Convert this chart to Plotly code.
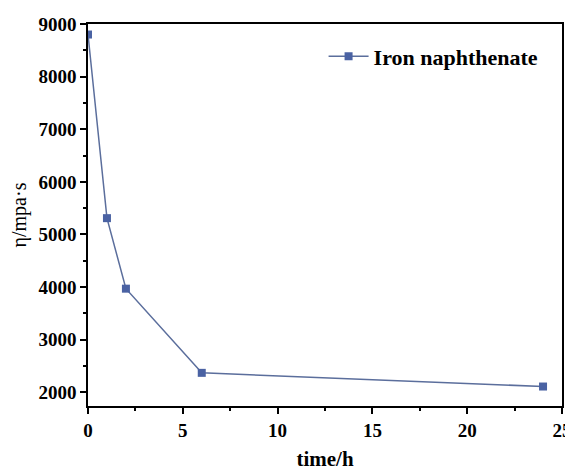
import plotly.graph_objects as go

time_h = [0, 1, 2, 6, 24]
viscosity = [8800, 5310, 3970, 2370, 2110]
series_name = "Iron naphthenate"

fig = go.Figure()
fig.add_trace(go.Scatter(
    x=time_h, y=viscosity, mode="lines+markers", name=series_name,
    line=dict(color="#5b6e9c", width=1.5),
    marker=dict(symbol="square", size=8, color="#4a62a3",
                line=dict(color="#4a62a3", width=0)),
    cliponaxis=True,
))

font_family = "Liberation Serif, Times New Roman, serif"
axis_common = dict(
    showline=True, linecolor="black", linewidth=1.5, mirror=True,
    ticks="outside", ticklen=6, tickwidth=1.5, tickcolor="black",
    showgrid=False, zeroline=False, automargin=False,
    tickfont=dict(family=font_family, size=19, color="black", weight="bold"),
)

fig.update_xaxes(
    range=[0, 25], tickvals=[0, 5, 10, 15, 20, 25],
    minor=dict(ticks="outside", ticklen=3, tickwidth=1.5, tickcolor="black", dtick=2.5, tick0=0),
    title=dict(text="<b>time/h</b>", font=dict(family=font_family, size=21, color="black"), standoff=28),
    **axis_common,
)
fig.update_yaxes(
    range=[1740, 9000], tickvals=[2000, 3000, 4000, 5000, 6000, 7000, 8000, 9000],
    minor=dict(ticks="outside", ticklen=3, tickwidth=1.5, tickcolor="black", dtick=500, tick0=0),
    title=dict(text="η/mpa·s", font=dict(family=font_family, size=20, color="black"), standoff=8),
    **axis_common,
)

# page body has an 8px default margin, so the figure is sized/offset to compensate
fig.update_layout(
    width=565, height=463,
    margin=dict(l=80, r=11, t=16, b=65),
    paper_bgcolor="white", plot_bgcolor="white",
    showlegend=True,
    legend=dict(x=0.497, y=0.97, xanchor="left", yanchor="top",
                bgcolor="rgba(0,0,0,0)", borderwidth=0,
                font=dict(family=font_family, size=22, color="black", weight="bold"),
                itemwidth=40),
)

fig.write_html("out.html")
